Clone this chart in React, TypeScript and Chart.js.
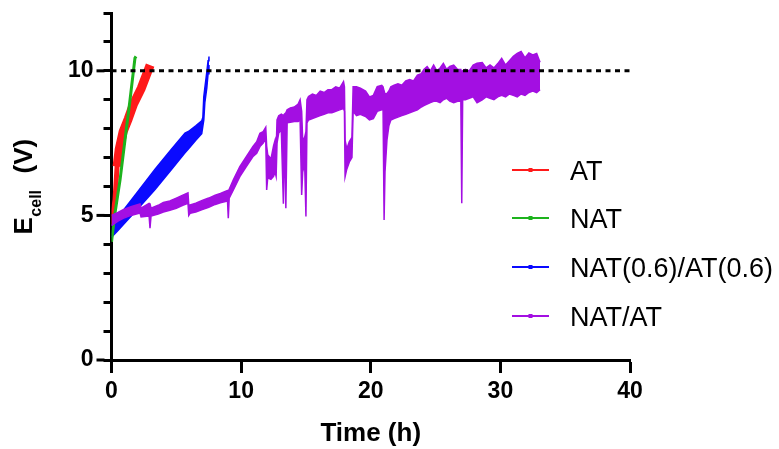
import React, { useEffect, useRef } from 'react';
import { Chart, registerables } from 'chart.js';

Chart.register(...registerables);

const FONT = "'Liberation Sans', Arial, Helvetica, sans-serif";

// ---------- labels ----------
const seriesNames = ['AT', 'NAT', 'NAT(0.6)/AT(0.6)', 'NAT/AT'];
const seriesColors = ['#FF1A1A', '#1DB31D', '#0A0AFF', '#A30FE2'];
const xTitle = 'Time (h)';
const yTitleMain = 'E';
const yTitleSub = 'cell';
const yTitleUnit = '(V)';
const xMin = 0;
const xMax = 40;
const xStep = 10;
const yMin = 0;
const yMax = 12;
const yLabelledTicks = [0, 5, 10];
const limitV = 10;

// ---------- AT (red): lower thin part, upper thick noisy part ----------
const atLowTime = [0, 0.1, 0.27, 0.43, 0.6];
const atLowV = [4.65, 5.0, 5.54, 6.69, 7.3];
const atHighTime = [0.43, 0.6, 0.9, 1.3, 1.7, 2.3, 2.98];
const atHighV = [6.69, 7.3, 7.9, 8.35, 8.85, 9.4, 10.2];

// ---------- NAT (green) ----------
const natTime = [0, 0.27, 0.66, 1.04, 1.43, 1.81, 1.89];
const natV = [4.09, 5.08, 6.23, 7.61, 9.0, 10.44, 10.5];

// ---------- NAT(0.6)/AT(0.6) (blue): upper / lower edge of noisy trace ----------
const mixTime = [0, 0.5, 1.04, 2.07, 3.36, 4.64, 5.67, 5.93, 6.5, 6.96, 7.05, 7.12, 7.2, 7.35, 7.45, 7.52];
const mixHigh = [4.65, 4.92, 5.25, 5.85, 6.6, 7.3, 7.85, 7.9, 8.1, 8.27, 8.4, 9.1, 9.4, 9.95, 10.35, 10.5];
const mixLow = [4.25, 4.48, 4.75, 5.25, 5.9, 6.6, 7.17, 7.3, 7.6, 7.83, 8.1, 8.3, 8.9, 9.4, 9.9, 10.2];

// ---------- NAT/AT (purple): upper / lower edge of noisy trace ----------
const natAtTime = [
  0.0, 0.5, 0.9, 1.5, 2.2, 2.28, 2.9, 2.97, 3.05, 3.6, 4.0, 4.5, 5.0, 5.5, 5.9, 5.96, 6.06, 6.5, 7.0, 7.5,
  8.0, 8.4, 8.95, 9.01, 9.08, 9.4, 9.9, 10.4, 10.9, 11.2, 11.45, 11.7, 11.9, 11.97, 12.05, 12.3, 12.5, 12.62, 12.7, 12.77,
  12.9, 13.1, 13.26, 13.33, 13.45, 13.55, 13.8, 14.1, 14.4, 14.55, 14.67, 14.75, 14.9, 15.0, 15.08, 15.2, 15.5, 15.8, 16.1, 16.4,
  16.7, 17.0, 17.3, 17.6, 17.9, 17.97, 18.02, 18.15, 18.35, 18.55, 18.64, 18.9, 19.2, 19.6, 19.9, 20.2, 20.5, 20.85, 20.95, 21.03,
  21.1, 21.25, 21.4, 21.55, 21.8, 22.1, 22.4, 22.7, 23.0, 23.3, 23.6, 23.9, 24.1, 24.35, 24.6, 24.85, 25.1, 25.35, 25.6, 25.85,
  26.1, 26.4, 26.7, 26.95, 27.02, 27.09, 27.3, 27.6, 27.9, 28.2, 28.6, 28.9, 29.2, 29.5, 29.8, 30.1, 30.4, 30.7, 31.0, 31.3,
  31.6, 31.9, 32.2, 32.5, 32.8, 33.06,
];
const natAtHigh = [
  5.0, 5.1, 5.2, 5.3, 5.4, 5.25, 5.42, 5.4, 5.25, 5.35, 5.45, 5.5, 5.6, 5.7, 5.78, 5.36, 5.36, 5.42, 5.52, 5.6,
  5.7, 5.76, 5.86, 5.86, 5.9, 6.23, 6.69, 7.03, 7.38, 7.55, 7.84, 7.9, 8.05, 7.4, 7.1, 6.95, 7.4, 7.6, 7.2, 8.3,
  8.45, 8.5, 8.45, 8.5, 8.55, 8.65, 8.72, 8.75, 8.85, 9.0, 8.6, 7.6, 7.7, 7.9, 9.0, 9.11, 9.2, 9.15, 9.3, 9.25,
  9.35, 9.35, 9.45, 9.4, 9.63, 9.45, 7.6, 7.3, 7.55, 7.7, 9.45, 9.45, 9.4, 9.3, 9.1, 9.15, 9.45, 9.5, 9.45, 9.3,
  9.2, 9.22, 9.3, 9.45, 9.5, 9.55, 9.5, 9.65, 9.7, 9.65, 9.85, 9.9, 10.05, 10.15, 10.0, 10.2, 10.0, 10.1, 10.26, 10.05,
  10.15, 10.2, 10.05, 10.05, 9.9, 10.0, 10.05, 10.0, 10.2, 10.26, 10.29, 10.1, 10.2, 10.1, 10.25, 10.43, 10.2, 10.35, 10.5, 10.6,
  10.67, 10.45, 10.62, 10.55, 10.6, 10.3,
];
const natAtLow = [
  4.65, 4.8, 4.9, 5.0, 5.08, 4.95, 4.98, 4.56, 4.98, 5.05, 5.12, 5.18, 5.25, 5.35, 5.42, 5.0, 5.07, 5.12, 5.2, 5.28,
  5.38, 5.44, 5.5, 4.9, 5.6, 5.88, 6.34, 6.69, 7.03, 7.15, 7.38, 7.5, 7.65, 5.88, 6.3, 6.25, 6.35, 6.5, 6.35, 7.5,
  7.85, 7.95, 5.4, 7.9, 5.25, 8.2, 8.22, 8.25, 8.25, 8.3, 5.71, 6.5, 6.8, 4.96, 8.2, 8.3, 8.35, 8.4, 8.45, 8.5,
  8.55, 8.55, 8.6, 8.65, 8.7, 8.6, 6.34, 6.6, 6.85, 7.0, 8.6, 8.45, 8.5, 8.42, 8.3, 8.35, 8.6, 8.65, 8.65, 4.84,
  6.5, 7.6, 8.1, 8.3, 8.35, 8.4, 8.45, 8.5, 8.55, 8.6, 8.65, 8.75, 8.8, 8.85, 8.9, 8.95, 8.95, 8.9, 9.0, 9.05,
  8.95, 8.9, 8.95, 8.95, 5.42, 9.0, 9.0, 9.05, 9.1, 8.9, 9.0, 9.1, 9.05, 9.0, 9.1, 9.15, 9.1, 9.2, 9.15, 9.1,
  9.2, 9.15, 9.25, 9.3, 9.25, 9.35,
];

const toPoints = (t: number[], v: number[]) => t.map((x, i) => ({ x, y: v[i] }));

const legendPlugin = {
  id: 'sideLegend',
  afterDraw(chart: any) {
    const ctx = chart.ctx;
    const rowY = [170, 218, 267, 316];
    ctx.save();
    seriesNames.forEach((name, i) => {
      const y = rowY[i];
      ctx.strokeStyle = seriesColors[i];
      ctx.lineWidth = 2;
      ctx.beginPath();
      ctx.moveTo(512, y);
      ctx.lineTo(549, y);
      ctx.stroke();
      ctx.fillStyle = seriesColors[i];
      ctx.fillRect(528.5, y - 2, 4, 4);
      ctx.fillStyle = '#000';
      ctx.font = `27px ${FONT}`;
      ctx.textAlign = 'left';
      ctx.textBaseline = 'alphabetic';
      ctx.fillText(name, 570, y + 10);
    });
    ctx.restore();
  },
};

const yTitlePlugin = {
  id: 'yTitleSub',
  afterDraw(chart: any) {
    const ctx = chart.ctx;
    const cy = (chart.chartArea.top + chart.chartArea.bottom) / 2;
    ctx.save();
    ctx.translate(32, cy);
    ctx.rotate(-Math.PI / 2);
    ctx.fillStyle = '#000';
    ctx.textAlign = 'left';
    ctx.textBaseline = 'alphabetic';
    ctx.font = `bold 26px ${FONT}`;
    const startU = -48;
    ctx.fillText(yTitleMain, startU, 0);
    const eW = ctx.measureText(yTitleMain).width;
    ctx.font = `bold 16px ${FONT}`;
    ctx.fillText(yTitleSub, startU + eW + 0.5, 9);
    ctx.font = `bold 26px ${FONT}`;
    ctx.fillText(yTitleUnit, 13, 0);
    ctx.restore();
  },
};

const majorTickPlugin = {
  id: 'majorTicks',
  afterDraw(chart: any) {
    const ctx = chart.ctx;
    const ys = chart.scales.y;
    const left = chart.chartArea.left;
    ctx.save();
    ctx.strokeStyle = '#000';
    ctx.lineWidth = 3;
    yLabelledTicks.forEach((v) => {
      const y = ys.getPixelForValue(v);
      ctx.beginPath();
      ctx.moveTo(left - 15, y);
      ctx.lineTo(left - 7, y);
      ctx.stroke();
    });
    ctx.restore();
  },
};

export default function App() {
  const ref = useRef<HTMLCanvasElement | null>(null);

  useEffect(() => {
    if (!ref.current) return;
    const [cAT, cNAT, cMix, cNatAt] = seriesColors;
    const chart = new Chart(ref.current, {
      type: 'line',
      data: {
        datasets: [
          {
            label: 'limit',
            data: [{ x: xMin, y: limitV }, { x: xMax, y: limitV }],
            borderColor: '#000',
            borderWidth: 3,
            borderDash: [5, 4.5],
            pointRadius: 0,
            order: 0,
          },
          {
            label: seriesNames[3] + ' low',
            data: toPoints(natAtTime, natAtLow),
            borderColor: cNatAt,
            backgroundColor: cNatAt,
            borderWidth: 1.5,
            pointRadius: 0,
            fill: '+1',
            order: 1,
          },
          {
            label: seriesNames[3] + ' high',
            data: toPoints(natAtTime, natAtHigh),
            borderColor: cNatAt,
            borderWidth: 1.5,
            pointRadius: 0,
            order: 2,
          },
          {
            label: seriesNames[1],
            data: toPoints(natTime, natV),
            borderColor: cNAT,
            borderWidth: 3,
            pointRadius: 0,
            order: 3,
          },
          {
            label: seriesNames[2] + ' low',
            data: toPoints(mixTime, mixLow),
            borderColor: cMix,
            backgroundColor: cMix,
            borderWidth: 1.5,
            pointRadius: 0,
            fill: '+1',
            order: 4,
          },
          {
            label: seriesNames[2] + ' high',
            data: toPoints(mixTime, mixHigh),
            borderColor: cMix,
            borderWidth: 1.5,
            pointRadius: 0,
            order: 5,
          },
          {
            label: seriesNames[0] + ' upper',
            data: toPoints(atHighTime, atHighV),
            borderColor: cAT,
            borderWidth: 9,
            borderJoinStyle: 'round',
            pointRadius: 0,
            order: 6,
          },
          {
            label: seriesNames[0] + ' lower',
            data: toPoints(atLowTime, atLowV),
            borderColor: cAT,
            borderWidth: 5,
            borderJoinStyle: 'round',
            pointRadius: 0,
            order: 7,
          },
        ] as any,
      },
      options: {
        responsive: false,
        animation: false,
        devicePixelRatio: 1,
        layout: { padding: { left: 0, right: 149, top: 13, bottom: 0 } },
        plugins: {
          legend: { display: false },
          tooltip: { enabled: false },
        },
        scales: {
          x: {
            type: 'linear',
            min: xMin,
            max: xMax,
            afterFit: (s: any) => {
              s.height = 89;
            },
            border: { display: true, color: '#000', width: 3 },
            grid: { drawOnChartArea: false, drawTicks: true, tickLength: 13, tickWidth: 3, tickColor: '#000' },
            ticks: {
              stepSize: xStep,
              color: '#000',
              padding: 7,
              font: { family: FONT, size: 23, weight: 'bold', lineHeight: 1 },
            },
            title: {
              display: true,
              text: xTitle,
              color: '#000',
              padding: { top: 0, bottom: 2 },
              font: { family: FONT, size: 26, weight: 'bold', lineHeight: 1 },
            },
          },
          y: {
            type: 'linear',
            min: yMin,
            max: yMax,
            afterFit: (s: any) => {
              s.width = 111.5;
              s.paddingTop = 0;
              s.paddingBottom = 0;
            },
            border: { display: true, color: '#000', width: 3 },
            grid: { drawOnChartArea: false, drawTicks: true, tickLength: 8, tickWidth: 3, tickColor: '#000' },
            ticks: {
              stepSize: 1,
              color: '#000',
              padding: 10,
              font: { family: FONT, size: 23, weight: 'bold', lineHeight: 1 },
              callback: (v: any) => (yLabelledTicks.includes(Number(v)) ? String(v) : ''),
            },
          },
        },
      } as any,
      plugins: [legendPlugin, yTitlePlugin, majorTickPlugin],
    });
    return () => chart.destroy();
  }, []);

  return (
    <div style={{ position: 'absolute', left: 0, top: 0, width: 779, height: 449, background: '#fff' }}>
      <canvas ref={ref} width={779} height={449} />
    </div>
  );
}
